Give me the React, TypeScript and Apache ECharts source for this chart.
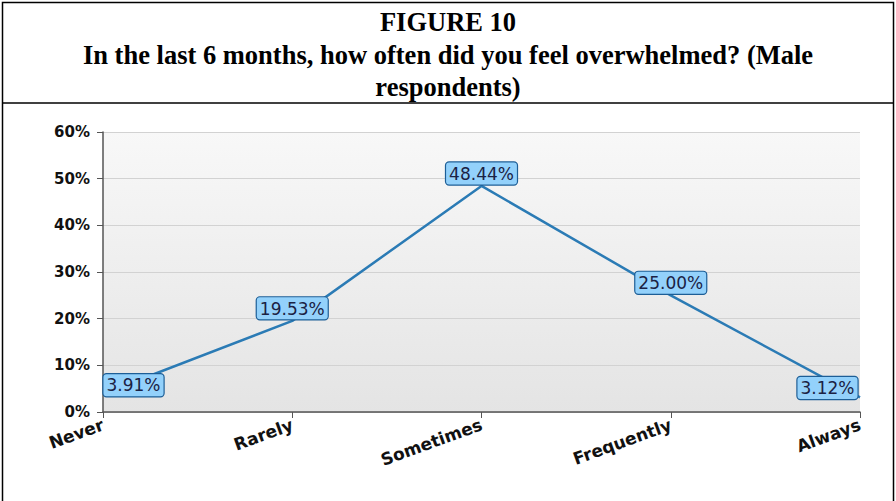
import React, { useEffect, useRef } from "react";
import * as echarts from "echarts";

const categories = ["Never", "Rarely", "Sometimes", "Frequently", "Always"];
const values = [3.91, 19.53, 48.44, 25.0, 3.12];
const titleLines = [
  "FIGURE 10",
  "In the last 6 months, how often did you feel overwhelmed? (Male",
  "respondents)",
];
const titleYs = [22, 55, 87];

export default function App() {
  const ref = useRef<HTMLDivElement>(null);
  useEffect(() => {
    if (!ref.current) return;
    const chart = echarts.init(ref.current, null, { renderer: "svg" });
    const labelBase = {
      show: true,
      formatter: (p: any) => Number(p.value).toFixed(2) + "%",
      backgroundColor: "#93d1fb",
      borderColor: "#1d5e96",
      borderWidth: 1.2,
      borderRadius: 3,
      padding: [2, 3, 1, 3],
      lineHeight: 19,
      color: "#1b2244",
      fontFamily: "DejaVu Sans, Verdana, sans-serif",
      fontSize: 17,
    };
    const data = values.map((v, i) => {
      if (i === 0)
        return {
          value: v,
          label: { position: [1, -8], align: "left", verticalAlign: "middle" },
        };
      if (i === values.length - 1)
        return {
          value: v,
          label: { position: [-2, -9], align: "right", verticalAlign: "middle" },
        };
      return { value: v };
    });
    chart.setOption({
      animation: false,
      backgroundColor: "#ffffff",
      graphic: [
        {
          type: "rect",
          shape: { x: 2.5, y: 2.5, width: 891, height: 510 },
          style: { fill: "none", stroke: "#000", lineWidth: 1.5 },
          silent: true,
        },
        {
          type: "line",
          shape: { x1: 2, y1: 103, x2: 894, y2: 103 },
          style: { stroke: "#000", lineWidth: 1.5 },
          silent: true,
        },
        ...titleLines.map((t, i) => ({
          type: "text",
          x: 448,
          y: titleYs[i],
          silent: true,
          style: {
            text: t,
            textAlign: "center",
            textVerticalAlign: "middle",
            fill: "#000",
            font: "bold 26.5px 'Liberation Serif', 'Times New Roman', serif",
          },
        })),
      ],
      grid: {
        left: 103,
        right: 36,
        top: 132,
        bottom: 89,
        show: true,
        borderWidth: 0,
        backgroundColor: new echarts.graphic.LinearGradient(0, 0, 0, 1, [
          { offset: 0, color: "#f8f8f8" },
          { offset: 1, color: "#e4e4e4" },
        ]),
      },
      xAxis: {
        type: "category",
        data: categories,
        boundaryGap: false,
        axisLine: { show: true, lineStyle: { color: "#555", width: 1.5 } },
        axisTick: { show: true, length: 6, interval: 0, lineStyle: { color: "#555" } },
        axisLabel: {
          interval: 0,
          rotate: 20,
          margin: 12,
          color: "#111",
          fontWeight: "bold",
          fontSize: 17,
          fontFamily: "DejaVu Sans, Verdana, sans-serif",
        },
        splitLine: { show: false },
      },
      yAxis: {
        type: "value",
        min: 0,
        max: 60,
        interval: 10,
        axisLine: { show: true, lineStyle: { color: "#555", width: 1.5 } },
        axisTick: { show: true, length: 6, lineStyle: { color: "#555" } },
        axisLabel: {
          formatter: "{value}%",
          margin: 13,
          color: "#111",
          fontWeight: "bold",
          fontSize: 15,
          fontFamily: "DejaVu Sans, Verdana, sans-serif",
        },
        splitLine: { show: true, lineStyle: { color: "#d2d2d2", width: 1 } },
      },
      series: [
        {
          type: "line",
          data,
          showSymbol: true,
          symbol: "circle",
          symbolSize: 1,
          itemStyle: { color: "rgba(0,0,0,0)", borderWidth: 0 },
          lineStyle: { color: "#2b7bb5", width: 2.5 },
          label: { ...labelBase, position: "top", distance: 1 },
          labelLayout: { hideOverlap: false },
          z: 3,
        },
      ],
    });
    return () => chart.dispose();
  }, []);
  return (
    <div
      ref={ref}
      style={{ position: "fixed", left: 0, top: 0, width: 896, height: 501 }}
    />
  );
}
